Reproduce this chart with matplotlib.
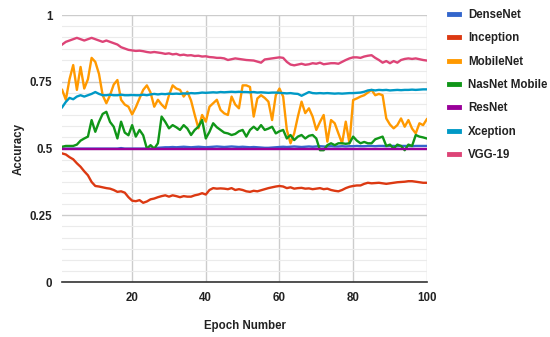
import matplotlib.pyplot as plt
import numpy as np
from matplotlib.ticker import MultipleLocator

# Epocas 1..100
epochs = np.arange(1, 101)

densenet = [
    0.50, 0.50, 0.50, 0.50, 0.50, 0.50, 0.50, 0.50, 0.50, 0.50,
    0.50, 0.50, 0.50, 0.50, 0.50, 0.50, 0.502, 0.50, 0.50, 0.50,
    0.50, 0.50, 0.50, 0.50, 0.50, 0.502, 0.503, 0.504, 0.505, 0.505,
    0.506, 0.505, 0.506, 0.507, 0.506, 0.505, 0.506, 0.507, 0.506, 0.505,
    0.506, 0.507, 0.508, 0.507, 0.506, 0.507, 0.508, 0.507, 0.506, 0.507,
    0.506, 0.505, 0.506, 0.505, 0.504, 0.503, 0.503, 0.504, 0.505, 0.506,
    0.507, 0.506, 0.507, 0.508, 0.507, 0.506, 0.507, 0.508, 0.507, 0.508,
    0.509, 0.508, 0.508, 0.509, 0.508, 0.508, 0.509, 0.508, 0.509, 0.509,
    0.510, 0.509, 0.509, 0.510, 0.510, 0.509, 0.510, 0.510, 0.509, 0.510,
    0.510, 0.509, 0.510, 0.510, 0.510, 0.509, 0.510, 0.510, 0.510, 0.510,
]

inception = [
    0.482, 0.478, 0.468, 0.460, 0.445, 0.432, 0.415, 0.400, 0.375, 0.360,
    0.358, 0.355, 0.352, 0.350, 0.345, 0.338, 0.340, 0.335, 0.318, 0.305,
    0.303, 0.307, 0.297, 0.302, 0.310, 0.313, 0.318, 0.322, 0.325, 0.320,
    0.325, 0.322, 0.318, 0.322, 0.320, 0.320, 0.325, 0.328, 0.333, 0.328,
    0.345, 0.352, 0.350, 0.351, 0.350, 0.348, 0.352, 0.345, 0.348, 0.345,
    0.340, 0.338, 0.342, 0.340, 0.344, 0.348, 0.352, 0.355, 0.358, 0.360,
    0.358, 0.352, 0.355, 0.350, 0.352, 0.353, 0.350, 0.351, 0.348, 0.350,
    0.352, 0.348, 0.350, 0.345, 0.342, 0.340, 0.345, 0.352, 0.357, 0.360,
    0.362, 0.362, 0.368, 0.372, 0.370, 0.371, 0.372, 0.370, 0.368, 0.370,
    0.372, 0.374, 0.375, 0.376, 0.378, 0.378, 0.376, 0.374, 0.372, 0.372,
]

mobilenet = [
    0.720, 0.683, 0.760, 0.813, 0.720, 0.806, 0.725, 0.760, 0.840, 0.825,
    0.780, 0.700, 0.670, 0.700, 0.740, 0.757, 0.683, 0.665, 0.657, 0.628,
    0.655, 0.688, 0.720, 0.737, 0.710, 0.657, 0.683, 0.665, 0.651, 0.700,
    0.737, 0.725, 0.720, 0.695, 0.713, 0.680, 0.626, 0.576, 0.626, 0.601,
    0.657, 0.670, 0.683, 0.645, 0.632, 0.626, 0.695, 0.665, 0.651, 0.737,
    0.737, 0.731, 0.620, 0.688, 0.700, 0.690, 0.676, 0.607, 0.700, 0.725,
    0.695, 0.570, 0.520, 0.557, 0.620, 0.676, 0.633, 0.651, 0.620, 0.570,
    0.600, 0.626, 0.526, 0.607, 0.595, 0.557, 0.520, 0.601, 0.520, 0.682,
    0.688, 0.695, 0.700, 0.710, 0.720, 0.700, 0.705, 0.700, 0.613, 0.590,
    0.576, 0.588, 0.613, 0.582, 0.607, 0.575, 0.557, 0.595, 0.588, 0.610,
]

nasnet = [
    0.507, 0.510, 0.510, 0.510, 0.515, 0.530, 0.538, 0.545, 0.607, 0.563,
    0.600, 0.630, 0.638, 0.600, 0.582, 0.538, 0.601, 0.560, 0.550, 0.588,
    0.545, 0.570, 0.550, 0.500, 0.513, 0.500, 0.520, 0.620, 0.600, 0.576,
    0.588, 0.580, 0.570, 0.588, 0.575, 0.551, 0.570, 0.582, 0.607, 0.538,
    0.563, 0.595, 0.580, 0.570, 0.560, 0.557, 0.551, 0.555, 0.565, 0.570,
    0.545, 0.570, 0.582, 0.570, 0.588, 0.570, 0.575, 0.582, 0.557, 0.565,
    0.570, 0.538, 0.551, 0.532, 0.545, 0.551, 0.538, 0.548, 0.551, 0.538,
    0.494, 0.494, 0.513, 0.520, 0.513, 0.520, 0.520, 0.518, 0.520, 0.545,
    0.530, 0.520, 0.525, 0.520, 0.520, 0.535, 0.540, 0.545, 0.510, 0.515,
    0.500, 0.515, 0.510, 0.494, 0.515, 0.510, 0.551, 0.545, 0.542, 0.538,
]

resnet = [
    0.5, 0.5, 0.5, 0.5, 0.5, 0.5, 0.5, 0.5, 0.5, 0.5,
    0.5, 0.5, 0.5, 0.5, 0.5, 0.5, 0.5, 0.5, 0.5, 0.5,
    0.5, 0.5, 0.5, 0.5, 0.5, 0.5, 0.5, 0.5, 0.5, 0.5,
    0.5, 0.5, 0.5, 0.5, 0.5, 0.5, 0.5, 0.5, 0.5, 0.5,
    0.5, 0.5, 0.5, 0.5, 0.5, 0.5, 0.5, 0.5, 0.5, 0.5,
    0.5, 0.5, 0.5, 0.5, 0.5, 0.5, 0.5, 0.5, 0.5, 0.5,
    0.5, 0.5, 0.5, 0.5, 0.5, 0.5, 0.5, 0.5, 0.5, 0.5,
    0.5, 0.5, 0.5, 0.5, 0.5, 0.5, 0.5, 0.5, 0.5, 0.5,
    0.5, 0.5, 0.5, 0.5, 0.5, 0.5, 0.5, 0.5, 0.5, 0.5,
    0.5, 0.5, 0.5, 0.5, 0.5, 0.5, 0.5, 0.5, 0.5, 0.5,
]

xception = [
    0.655, 0.675, 0.690, 0.685, 0.695, 0.700, 0.695, 0.700, 0.705, 0.712,
    0.705, 0.700, 0.700, 0.702, 0.700, 0.700, 0.702, 0.700, 0.700, 0.701,
    0.700, 0.700, 0.702, 0.700, 0.703, 0.705, 0.703, 0.705, 0.704, 0.706,
    0.705, 0.706, 0.705, 0.707, 0.706, 0.708, 0.707, 0.708, 0.710, 0.709,
    0.710, 0.711, 0.710, 0.712, 0.711, 0.712, 0.713, 0.712, 0.713, 0.712,
    0.712, 0.711, 0.712, 0.710, 0.711, 0.710, 0.709, 0.710, 0.710, 0.709,
    0.708, 0.707, 0.708, 0.706, 0.705, 0.698, 0.705, 0.712, 0.708, 0.707,
    0.708, 0.707, 0.708, 0.707, 0.706, 0.707, 0.706, 0.707, 0.708, 0.708,
    0.709, 0.710, 0.713, 0.718, 0.720, 0.718, 0.720, 0.719, 0.720, 0.718,
    0.719, 0.720, 0.719, 0.720, 0.720, 0.721, 0.720, 0.721, 0.722, 0.722,
]

vgg19 = [
    0.890, 0.900, 0.905, 0.910, 0.915, 0.910, 0.905, 0.910, 0.915, 0.910,
    0.905, 0.900, 0.905, 0.900, 0.895, 0.890, 0.880, 0.875, 0.870, 0.868,
    0.866, 0.867, 0.865, 0.862, 0.860, 0.862, 0.860, 0.858, 0.855, 0.857,
    0.853, 0.855, 0.850, 0.852, 0.849, 0.850, 0.847, 0.848, 0.845, 0.846,
    0.843, 0.842, 0.840, 0.840, 0.838, 0.832, 0.835, 0.838, 0.836, 0.834,
    0.832, 0.831, 0.830, 0.826, 0.822, 0.834, 0.836, 0.838, 0.840, 0.842,
    0.840, 0.825, 0.815, 0.812, 0.815, 0.818, 0.814, 0.816, 0.820, 0.818,
    0.822, 0.816, 0.818, 0.820, 0.820, 0.818, 0.825, 0.832, 0.838, 0.842,
    0.842, 0.840, 0.845, 0.848, 0.850, 0.840, 0.832, 0.822, 0.828, 0.820,
    0.828, 0.822, 0.832, 0.836, 0.838, 0.836, 0.838, 0.835, 0.832, 0.830,
]

names = ['DenseNet', 'Inception', 'MobileNet', 'NasNet Mobile', 'ResNet', 'Xception', 'VGG-19']
series = [densenet, inception, mobilenet, nasnet, resnet, xception, vgg19]
colors = ['#3366cc', '#dc3912', '#ff9900', '#109618', '#990099', '#0099c6', '#dd4477']

plt.rcParams['font.family'] = ['Liberation Sans', 'DejaVu Sans']

fig = plt.figure(figsize=(5.5, 3.37), dpi=100)
ax = fig.add_axes([0.113, 0.163, 0.663, 0.792])

# orden de dibujo: ResNet encima de DenseNet como en la original
order = [0, 1, 2, 3, 5, 6, 4]
lines = {}
for i in order:
    ln, = ax.plot(epochs, series[i], color=colors[i], lw=1.7, label=names[i],
                  solid_joinstyle='round', zorder=3)
    lines[i] = ln

ax.set_xlim(1, 100)
ax.set_ylim(0, 1)
ax.set_xticks([20, 40, 60, 80, 100])
ax.set_yticks([0, 0.25, 0.5, 0.75, 1])
ax.set_yticklabels(['0', '0.25', '0.5', '0.75', '1'])
ax.yaxis.set_minor_locator(MultipleLocator(0.25 / 6))

ax.grid(True, which='major', color='#cccccc', lw=1, zorder=0)
ax.grid(True, which='minor', axis='y', color='#ebebeb', lw=0.8, zorder=0)
ax.tick_params(which='both', length=0)
ax.tick_params(axis='both', labelsize=8.3, colors='#222222', pad=7)
for lab in ax.get_xticklabels() + ax.get_yticklabels():
    lab.set_fontweight('bold')

for s in ['top', 'right', 'left']:
    ax.spines[s].set_visible(False)
ax.spines['bottom'].set_color('#333333')
ax.spines['bottom'].set_linewidth(1.2)

ax.set_xlabel('Epoch Number', fontsize=8.3, fontweight='bold', color='#222222', labelpad=12)
ax.set_ylabel('Accuracy', fontsize=8.3, fontweight='bold', color='#222222', labelpad=4)

handles = [lines[i] for i in range(7)]
leg = ax.legend(handles, names, loc='upper left', bbox_to_anchor=(1.048, 1.04),
                frameon=False, fontsize=8.3, handlelength=0.9, handletextpad=0.75,
                labelspacing=0.98, borderaxespad=0)
for t in leg.get_texts():
    t.set_fontweight('bold')
    t.set_color('#222222')
for h in leg.legend_handles:
    h.set_linewidth(3.5)

fig.savefig('out.png', dpi=100)
